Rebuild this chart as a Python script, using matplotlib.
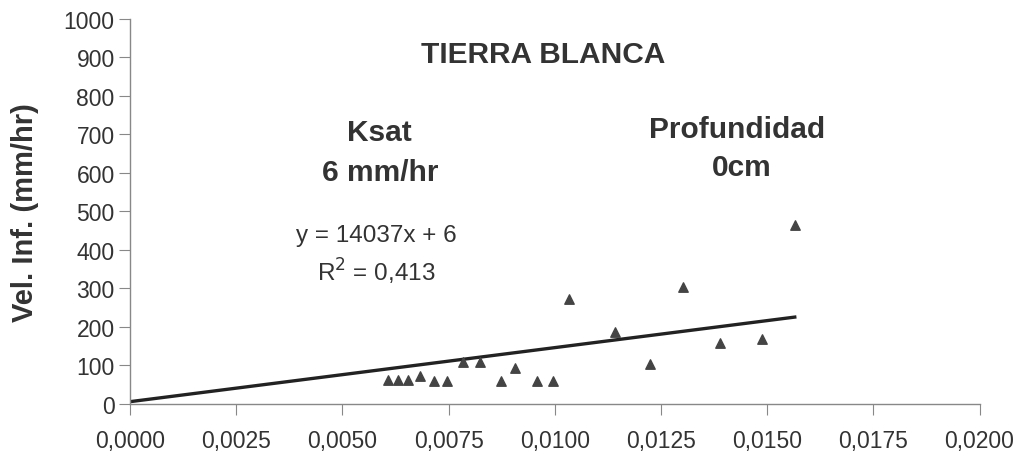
import matplotlib
matplotlib.use("Agg")
import matplotlib.pyplot as plt
from matplotlib.ticker import FuncFormatter
import numpy as np

plt.rcParams['font.family'] = ['Liberation Sans', 'DejaVu Sans']

# measured points: gradient vs infiltration rate (mm/hr)
gradiente = [0.00607, 0.00630, 0.00654, 0.00682, 0.00715, 0.00746, 0.00784,
             0.00824, 0.00874, 0.00907, 0.00959, 0.00996, 0.01034, 0.01141,
             0.01225, 0.01301, 0.01388, 0.01488, 0.01565]
vel_inf = [62, 62, 62, 73, 60, 60, 109, 109, 60, 93, 60, 60, 272, 187,
           104, 304, 158, 169, 465]

# linear trend reported on the chart
pendiente = 14037
intercepto = 6
r2 = "0,413"

x_ticks = [0, 0.0025, 0.005, 0.0075, 0.01, 0.0125, 0.015, 0.0175, 0.02]
y_ticks = list(range(0, 1001, 100))

fig = plt.figure(figsize=(10.36, 4.6), dpi=100)
ax = fig.add_axes([0.1255, 0.1196, 0.820, 0.837])

ax.scatter(gradiente, vel_inf, marker='^', s=46, color='#444444', zorder=3)
xt = np.array([0, max(gradiente)])
ax.plot(xt, pendiente * xt + intercepto, color='#222222', lw=2.4, zorder=2)

ax.set_xlim(0, 0.02)
ax.set_ylim(0, 1000)
ax.set_xticks(x_ticks)
ax.set_yticks(y_ticks)
ax.xaxis.set_major_formatter(FuncFormatter(lambda v, p: f"{v:.4f}".replace('.', ',')))

for s in ['top', 'right']:
    ax.spines[s].set_visible(False)
for s in ['left', 'bottom']:
    ax.spines[s].set_color('#888888')
    ax.spines[s].set_linewidth(1.0)
ax.tick_params(axis='both', colors='#888888', labelcolor='#333333',
               labelsize=16.5, length=8, direction='out')
ax.tick_params(axis='y', pad=3)
ax.tick_params(axis='x', pad=10)

ax.set_ylabel('Vel. Inf. (mm/hr)', fontsize=21, fontweight='bold',
              color='#333333', labelpad=18)

txt = dict(color='#333333', ha='center', va='center', transform=ax.transAxes)
ax.text(0.486, 0.909, 'TIERRA BLANCA', fontsize=21.5, fontweight='bold', **txt)
ax.text(0.293, 0.706, 'Ksat', fontsize=21.5, fontweight='bold', **txt)
ax.text(0.295, 0.603, '6 mm/hr', fontsize=21.5, fontweight='bold', **txt)
ax.text(0.715, 0.714, 'Profundidad', fontsize=21.5, fontweight='bold', **txt)
ax.text(0.72, 0.616, '0cm', fontsize=21.5, fontweight='bold', **txt)
ax.text(0.29, 0.44, f'y = {pendiente}x + {intercepto}', fontsize=17.5, **txt)
ax.text(0.29, 0.345, f'R$^2$ = {r2}', fontsize=17.5, **txt)

fig.savefig('out.png', dpi=100)
